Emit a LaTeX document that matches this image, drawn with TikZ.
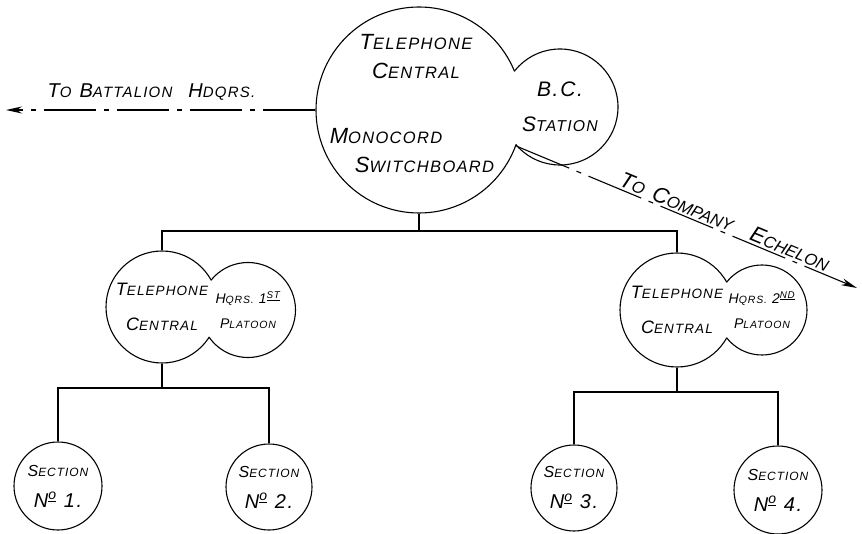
\documentclass[tikz,border=0pt]{standalone}
\usepackage{fontspec}
\setmainfont{Liberation Sans}[LetterSpace=8]
\usetikzlibrary{arrows.meta}

% first letter full size, the rest as small capitals
\newcommand\lett[2]{#1{\addfontfeature{Scale=0.75}#2}}
\newcommand\numero{N\textsuperscript{\underline{o}}}
% outline of two joined circles
\newcommand\twinring[4]{%
  \begin{scope}[even odd rule]
    \clip (-20,-20) rectangle (900,560) (#3.center) circle[radius=#4];
    \draw (#1.center) circle[radius=#2];
  \end{scope}
  \begin{scope}[even odd rule]
    \clip (-20,-20) rectangle (900,560) (#1.center) circle[radius=#2];
    \draw (#3.center) circle[radius=#4];
  \end{scope}}

\begin{document}
\begin{tikzpicture}[
        x=1pt, y=-1pt,
        line width=1.1pt,
        ring/.style={circle, inner sep=0pt, align=center},
        bigtext/.style={font=\itshape\fontsize{22}{29}\selectfont, inner sep=0pt},
        midtext/.style={font=\itshape\fontsize{18}{35}\selectfont},
        smalltext/.style={font=\itshape\fontsize{14}{25}\selectfont},
        sectext/.style={font=\itshape\fontsize{16}{31}\selectfont},
        wiretip/.style={-{Stealth[length=16pt, width=7pt]}},
        batwire/.style={wiretip, dash pattern=on 52pt off 8pt on 5pt off 8pt},
        echwire/.style={wiretip, dash pattern=on 57pt off 8pt on 5pt off 8pt}
    ]
    \useasboundingbox (0,0) rectangle (862,534);

    %% central station
    \node[ring, minimum size=206pt] (tcmain) at (419,110) {};
    \node[ring, minimum size=116pt, font=\itshape\fontsize{21}{29}\selectfont]
          (bcst) at (560,107) {B.C.\\[6pt]\lett{S}{TATION}};
    \twinring{tcmain}{103}{bcst}{58}
    \node[bigtext, align=center] (tctext) at (416,57)
          {\lett{T}{ELEPHONE}\\\lett{C}{ENTRAL}};
    \node[bigtext, align=left] (sbtext) at (412,151)
          {\lett{M}{ONOCORD}\\\hspace*{25pt}\lett{S}{WITCHBOARD}};

    %% outgoing lines
    \coordinate (bathq) at (6,110);
    \coordinate (coech) at (857,288);
    \draw[batwire] (tcmain.west) -- node[pos=0.53, above=9pt, bigtext,
          font=\itshape\fontsize{20}{24}\selectfont]
          {\lett{T}{O}\hspace{8pt}\lett{B}{ATTALION}\hspace{16pt}\lett{H}{DQRS.}} (bathq);
    \draw[echwire] (bcst.222) -- node[pos=0.6, sloped, above=2pt, inner sep=0pt,
          font=\itshape\fontsize{22}{24}\selectfont\addfontfeature{LetterSpace=0}]
          {\lett{T}{O}\hspace{9pt}\lett{C}{OMPANY}\hspace{20pt}\lett{E}{CHELON}} (coech);

    %% platoon centrals
    \node[ring, minimum size=112pt, midtext] (tcleft) at (162,307)
          {\lett{T}{ELEPHONE}\\\lett{C}{ENTRAL}};
    \node[ring, minimum size=95pt, smalltext] (hqleft) at (248,310)
          {\lett{H}{QRS.} 1\textsuperscript{\underline{ST}}\\\lett{P}{LATOON}};
    \twinring{tcleft}{56}{hqleft}{47.5}

    \node[ring, minimum size=114pt, midtext] (tcright) at (677,310)
          {\lett{T}{ELEPHONE}\\\lett{C}{ENTRAL}};
    \node[ring, minimum size=90pt, smalltext] (hqright) at (762,310)
          {\lett{H}{QRS.} 2\textsuperscript{\underline{ND}}\\\lett{P}{LATOON}};
    \twinring{tcright}{57}{hqright}{45}

    \coordinate (bustop) at (0,231);
    \draw (tcmain.south) -- (tcmain.south |- bustop);
    \draw (tcleft.north) |- (tcright.north |- bustop) -- (tcright.north);

    %% sections
    \node[ring, draw, minimum size=88pt, sectext] (sec1) at (58,486)
          {\lett{S}{ECTION}\\{\fontsize{20}{20}\selectfont\numero\ 1.}};
    \node[ring, draw, minimum size=86pt, sectext] (sec2) at (269,487)
          {\lett{S}{ECTION}\\{\fontsize{20}{20}\selectfont\numero\ 2.}};
    \node[ring, draw, minimum size=86pt, sectext] (sec3) at (574,488)
          {\lett{S}{ECTION}\\{\fontsize{20}{20}\selectfont\numero\ 3.}};
    \node[ring, draw, minimum size=88pt, sectext] (sec4) at (778,490)
          {\lett{S}{ECTION}\\{\fontsize{20}{20}\selectfont\numero\ 4.}};

    \coordinate (busleft) at (0,388);
    \coordinate (busright) at (0,392);
    \draw (tcleft.south) -- (tcleft.south |- busleft);
    \draw (sec1.north) |- (sec2.north |- busleft) -- (sec2.north);
    \draw (tcright.south) -- (tcright.south |- busright);
    \draw (sec3.north) |- (sec4.north |- busright) -- (sec4.north);

\end{tikzpicture}
\end{document}
